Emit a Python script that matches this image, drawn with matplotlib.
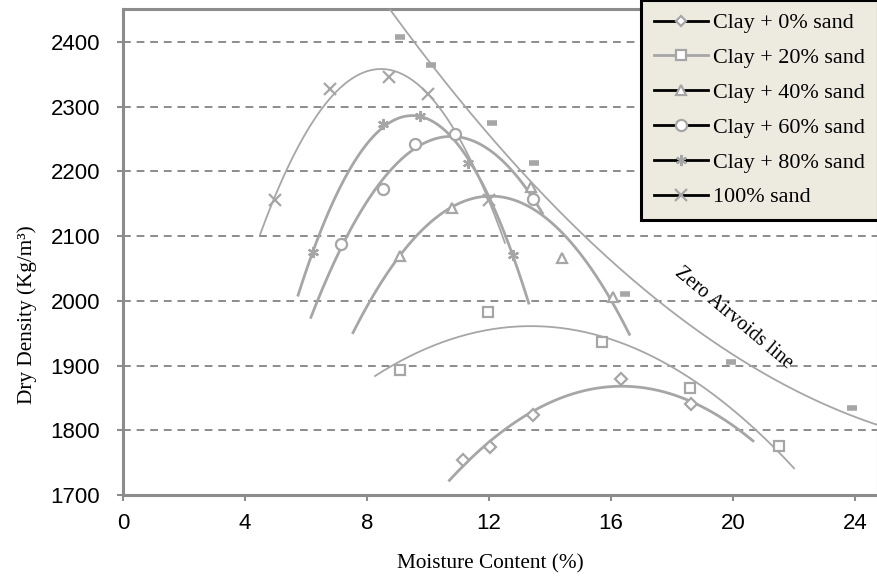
import numpy as np
import matplotlib
matplotlib.use("Agg")
import matplotlib.pyplot as plt
from matplotlib.lines import Line2D

# Compaction test results: moisture content (%) vs dry density (kg/m3)
w_clay0 = [11.15, 12.03, 13.44, 16.33, 18.62]
d_clay0 = [1754, 1774, 1823, 1879, 1840]

w_clay20 = [9.08, 11.97, 15.70, 18.60, 21.50]
d_clay20 = [1893, 1983, 1936, 1865, 1776]

w_clay40 = [9.08, 10.79, 13.38, 14.39, 16.07]
d_clay40 = [2069, 2143, 2176, 2066, 2006]

w_clay60 = [7.15, 8.52, 9.57, 10.89, 13.44]
d_clay60 = [2088, 2173, 2242, 2258, 2157]

w_clay80 = [6.23, 8.53, 9.74, 11.30, 12.80]
d_clay80 = [2075, 2273, 2286, 2213, 2071]

w_sand100 = [4.98, 6.79, 8.72, 10.00, 12.00]
d_sand100 = [2156, 2327, 2346, 2320, 2156]

# zero air voids points
w_zav = [9.08, 10.10, 12.10, 13.48, 16.46, 19.93, 23.90]
d_zav = [2408, 2364, 2275, 2213, 2010, 1905, 1834]

labels = ["Clay + 0% sand", "Clay + 20% sand", "Clay + 40% sand",
          "Clay + 60% sand", "Clay + 80% sand", "100% sand"]

x_ticks = [0, 4, 8, 12, 16, 20, 24]
y_ticks = [1700, 1800, 1900, 2000, 2100, 2200, 2300, 2400]

GRAY = "#A6A6A6"
SPINE = "#8C8C8C"

fig = plt.figure(figsize=(8.78, 5.77), dpi=100)
ax = fig.add_axes([123 / 878, 1 - 495 / 577, 1 - 123 / 878, (495 - 9) / 577])

# (x, y, marker, marker size, trend line width, trend range)
series = [
    (w_clay0, d_clay0, "D", 6.0, 2.0, (10.7, 20.65)),
    (w_clay20, d_clay20, "s", 7.5, 1.3, (8.26, 22.0)),
    (w_clay40, d_clay40, "^", 7.5, 2.0, (7.54, 16.6)),
    (w_clay60, d_clay60, "o", 8.0, 2.0, (6.16, 13.75)),
    (w_clay80, d_clay80, (6, 2, 0), 8.0, 2.0, (5.74, 13.3)),
    (w_sand100, d_sand100, "x", 8.0, 1.3, (4.5, 12.52)),
]

for w, d, mk, ms, lw, (x0, x1) in series:
    coef = np.polyfit(w, d, 2)
    xs = np.linspace(x0, x1, 200)
    ax.plot(xs, np.polyval(coef, xs), color=GRAY, lw=lw, zorder=3)
    ax.plot(w, d, linestyle="none", marker=mk, ms=ms, mfc="white",
            mec=GRAY, mew=1.6, zorder=4)

# zero air voids trend
coef_z = np.polyfit(w_zav, d_zav, 2)
xz = np.linspace(7.5, 25, 300)
ax.plot(xz, np.polyval(coef_z, xz), color=GRAY, lw=1.3, zorder=3)
ax.plot(w_zav, d_zav, linestyle="none", marker="_", ms=7, mew=4,
        color=GRAY, zorder=4)

ax.text(20.0, 1973, "Zero Airvoids line", rotation=-40, ha="center",
        va="center", fontsize=14.5, family="Liberation Serif", color="black",
        rotation_mode="anchor")

ax.set_xlim(0, 24.75)
ax.set_ylim(1700, 2451)
ax.set_xticks(x_ticks)
ax.set_yticks(y_ticks)
ax.tick_params(axis="both", labelsize=16, colors=SPINE, labelcolor="black",
               length=4.5, width=1.5, direction="out")
ax.tick_params(axis="x", pad=8.5)
ax.tick_params(axis="y", pad=12)
for lab in ax.get_xticklabels() + ax.get_yticklabels():
    lab.set_family("Liberation Sans")
ax.grid(axis="y", linestyle=(0, (4, 3)), color="#8C8C8C", lw=1.4, zorder=1)
ax.set_axisbelow(True)
for side in ["left", "bottom", "top", "right"]:
    ax.spines[side].set_color(SPINE)
    ax.spines[side].set_linewidth(2.2)

ax.set_xlabel("Moisture Content (%)", fontsize=15.3, family="Liberation Serif")
ax.set_ylabel("Dry Density (Kg/m³)", fontsize=15.3, family="Liberation Serif")
ax.xaxis.set_label_coords(0.486, -0.122)
ax.yaxis.set_label_coords(-0.114, 0.37)

# legend proxies
handle_specs = [("D", 5.5, "black"), ("s", 7.5, GRAY), ("^", 7.5, "black"),
                ("o", 8.0, "black"), ((6, 2, 0), 8.0, "black"), ("x", 8.0, "black")]
handles = [Line2D([0], [0], color=lc, lw=2, marker=mk, ms=ms, mfc="white",
                  mec=GRAY, mew=1.6) for mk, ms, lc in handle_specs]
leg = fig.legend(handles, labels, loc="upper right", bbox_to_anchor=(1.0, 1.0),
                 prop={"family": "Liberation Serif", "size": 15.9},
                 frameon=True, fancybox=False, handlelength=2.45,
                 handletextpad=0.23, labelspacing=0.65, borderpad=0.58,
                 borderaxespad=0.0)
leg.get_frame().set_facecolor("#EDEAE0")
leg.get_frame().set_edgecolor("black")
leg.get_frame().set_linewidth(2.2)
leg.get_frame().set_alpha(1.0)

fig.savefig("out.png", dpi=100)
